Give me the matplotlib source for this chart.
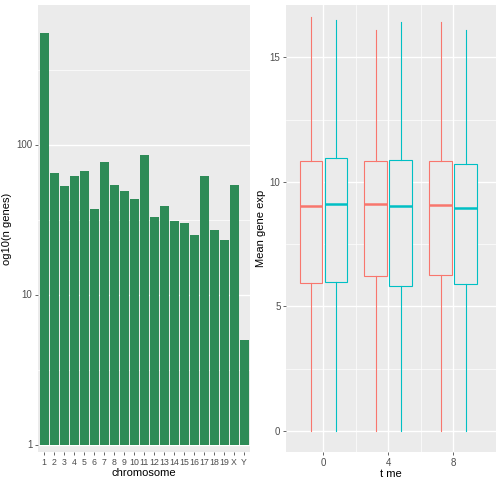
import matplotlib
matplotlib.use("Agg")
import matplotlib.pyplot as plt
import numpy as np

plt.rcParams['font.family'] = ['Liberation Sans', 'DejaVu Sans']

chromosomes = [str(i) for i in range(1, 20)] + ["X", "Y"]
n_genes = [550, 65, 53, 62, 67, 37, 77, 54, 49, 43, 85, 33, 39, 31, 30, 25, 62, 27, 23, 54, 5]

times = [0, 4, 8]
groups = ["a", "b"]
colors = ["#F8766D", "#00BFC4"]
# per group: per time [low, q1, med, q3, high]
box_stats = {
    "a": [[0, 5.92, 9.01, 10.83, 16.6], [0, 6.23, 9.09, 10.83, 16.1], [0, 6.27, 9.08, 10.83, 16.4]],
    "b": [[0, 5.99, 9.12, 10.95, 16.5], [0, 5.83, 9.01, 10.87, 16.4], [0, 5.91, 8.93, 10.71, 16.1]],
}

bg = "#EBEBEB"
fig = plt.figure(figsize=(5.04, 5.04), dpi=100)
ax1 = fig.add_axes([38/504, 52/504, 212/504, 447/504])
ax2 = fig.add_axes([286/504, 52/504, 210/504, 447/504])

for ax in (ax1, ax2):
    ax.set_facecolor(bg)
    for s in ax.spines.values():
        s.set_visible(False)
    ax.tick_params(colors="#4D4D4D", labelsize=7, length=2.5, width=0.6, labelcolor="#4D4D4D", pad=1.5)
    ax.set_axisbelow(True)

x = np.arange(len(chromosomes))
base = 1
ax1.bar(x, np.array(n_genes) - base, bottom=base, width=0.9, color="#2E8B57")
ax1.set_yscale("log")
ax1.set_ylim(10**-0.05, 10**2.93)
ax1.set_xlim(-0.6, len(chromosomes) - 0.4)
ax1.set_xticks(x)
ax1.set_xticklabels(chromosomes, fontsize=6.3)
ax1.set_yticks([1, 10, 100])
ax1.set_yticklabels(["1", "10", "100"])
ax1.yaxis.set_minor_locator(matplotlib.ticker.FixedLocator([10**0.5, 10**1.5, 10**2.5]))
ax1.yaxis.set_minor_formatter(matplotlib.ticker.NullFormatter())
ax1.tick_params(axis="y", which="minor", length=0)
ax1.grid(True, which="major", color="white", lw=1.0)
ax1.grid(True, which="minor", axis="y", color="white", lw=0.5)
ax1.grid(False, axis="x", which="both")
ax1.set_xlabel("chromosome", fontsize=8, labelpad=1)
ax1.set_ylabel("og10(n genes)", fontsize=8, labelpad=3)

offsets = [-0.77, 0.77]
for gi, g in enumerate(groups):
    stats = []
    for ti, t in enumerate(times):
        lo, q1, med, q3, hi = box_stats[g][ti]
        stats.append(dict(whislo=lo, q1=q1, med=med, q3=q3, whishi=hi, fliers=[]))
    pos = [t + offsets[gi] for t in times]
    c = colors[gi]
    ax2.bxp(stats, positions=pos, widths=1.38, showcaps=False, patch_artist=True,
            boxprops=dict(facecolor=bg, edgecolor=c, lw=0.8),
            whiskerprops=dict(color=c, lw=0.8),
            medianprops=dict(color=c, lw=1.8))
ax2.set_xlim(-2.3, 10.65)
ax2.set_ylim(-0.85, 17.1)
ax2.set_xticks(times)
ax2.set_xticklabels([str(t) for t in times])
ax2.set_yticks([0, 5, 10, 15])
ax2.set_yticklabels(["0", "5", "10", "15"])
ax2.yaxis.set_minor_locator(matplotlib.ticker.FixedLocator([2.5, 7.5, 12.5]))
ax2.xaxis.set_minor_locator(matplotlib.ticker.FixedLocator([2, 6]))
ax2.tick_params(which="minor", length=0)
ax2.grid(True, which="major", color="white", lw=1.0)
ax2.grid(True, which="minor", color="white", lw=0.5)
ax2.set_xlabel("t me", fontsize=8, labelpad=1)
ax2.set_ylabel("Mean gene exp", fontsize=8, labelpad=3)

fig.savefig("out.png", dpi=100)
